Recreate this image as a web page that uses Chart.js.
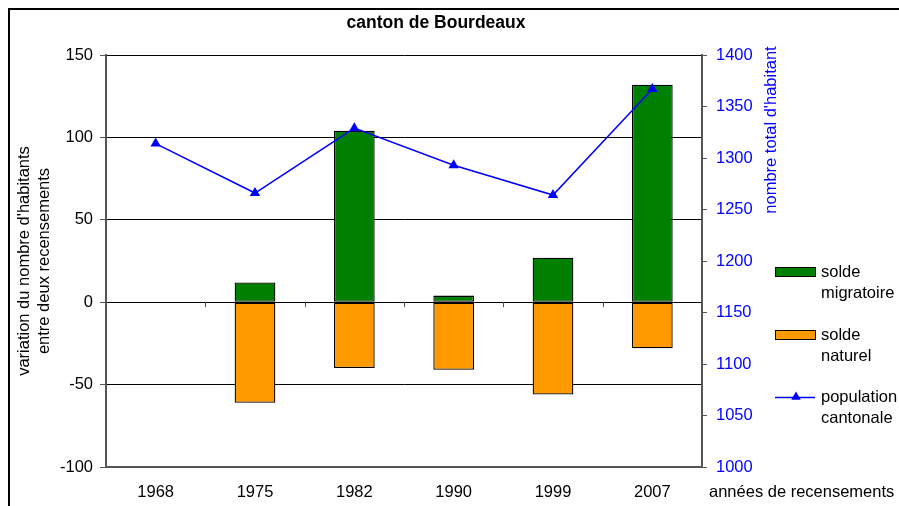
<!DOCTYPE html>
<html>
<head>
<meta charset="utf-8">
<script src="https://cdn.jsdelivr.net/npm/chart.js@4.4.1/dist/chart.umd.min.js"></script>
<style>
  body { margin: 0; background: #fff; }
  #wrap { width: 899px; height: 506px; }
</style>
</head>
<body>
<div id="wrap"><canvas id="myChart" width="899" height="506"></canvas></div>
<script>
let years = ["1968", "1975", "1982", "1990", "1999", "2007"];
let soldeMigratoire = [null, 12, 104, 4, 27, 132];
let soldeNaturel = [null, -61, -40, -41, -56, -28];
let population = [1314, 1266, 1329, 1293, 1264, 1367];
let leftTicks = [-100, 150, 50];   // min, max, step
let rightTicks = [1000, 1400, 50];

const FONT = '"Liberation Sans", Arial, sans-serif';
const SIZE = 16.5;

// title, axis titles, legend, frame and the small ticks on the zero line
const decorations = {
    id: 'decorations',
    afterDatasetsDraw(chart) {
        const ctx = chart.ctx;
        const x = chart.scales.x;
        const y0 = chart.scales.y.getPixelForValue(0);
        ctx.save();
        ctx.strokeStyle = '#555';
        ctx.lineWidth = 1;
        for (let i = 1; i < years.length; i++) {
            const px = Math.round((x.getPixelForValue(i - 1) + x.getPixelForValue(i)) / 2) + 0.5;
            ctx.beginPath();
            ctx.moveTo(px, y0);
            ctx.lineTo(px, y0 + 5);
            ctx.stroke();
        }
        ctx.restore();
    },
    afterDraw(chart) {
        const ctx = chart.ctx;
        ctx.save();

        // frame
        ctx.strokeStyle = '#000';
        ctx.lineWidth = 2;
        ctx.strokeRect(9, 9, 1000, 1000);

        // title
        ctx.fillStyle = '#000';
        ctx.font = 'bold 17.5px ' + FONT;
        ctx.textAlign = 'center';
        ctx.textBaseline = 'alphabetic';
        ctx.fillText('canton de Bourdeaux', 436, 28);

        // x axis title, to the right of the labels
        ctx.font = SIZE + 'px ' + FONT;
        ctx.textAlign = 'left';
        ctx.fillText('années de recensements', 709, 497);

        // left axis title (two lines)
        const area = chart.chartArea;
        ctx.save();
        ctx.translate(0, (area.top + area.bottom) / 2);
        ctx.rotate(-Math.PI / 2);
        ctx.textAlign = 'center';
        ctx.textBaseline = 'middle';
        ctx.fillText("variation du nombre d'habitants", 0, 24);
        ctx.fillText('entre deux recensements', 0, 44);
        ctx.restore();

        // right axis title
        ctx.save();
        ctx.translate(771, 130);
        ctx.rotate(-Math.PI / 2);
        ctx.fillStyle = '#0000FF';
        ctx.textAlign = 'center';
        ctx.textBaseline = 'middle';
        ctx.fillText("nombre total d'habitant", 0, 0);
        ctx.restore();

        // legend
        const sw = 775, tx = 821;
        const rows = [272, 335, 397];
        chart.data.datasets.forEach((ds, i) => {
            const cy = rows[i];
            if (ds.type === 'line') {
                ctx.strokeStyle = ds.borderColor;
                ctx.lineWidth = 1.5;
                ctx.beginPath();
                ctx.moveTo(sw, cy + 0.5);
                ctx.lineTo(sw + 40, cy + 0.5);
                ctx.stroke();
                ctx.fillStyle = ds.borderColor;
                Chart.helpers.drawPoint(ctx, { pointStyle: 'triangle', radius: 5.5, borderWidth: 0 }, sw + 21, cy);
            } else {
                ctx.fillStyle = ds.backgroundColor;
                ctx.fillRect(sw, cy - 4.5, 40, 9);
                ctx.strokeStyle = '#000';
                ctx.lineWidth = 1;
                ctx.strokeRect(sw + 0.5, cy - 4.5, 40, 9);
            }
            ctx.fillStyle = '#000';
            ctx.font = SIZE + 'px ' + FONT;
            ctx.textAlign = 'left';
            ctx.textBaseline = 'middle';
            ds.label.forEach((line, j) => ctx.fillText(line, tx, cy + j * 21));
        });

        ctx.restore();
    }
};

new Chart(document.getElementById('myChart'), {
    type: 'bar',
    data: {
        labels: years,
        datasets: [
            {
                label: ['solde', 'migratoire'],
                data: soldeMigratoire,
                backgroundColor: '#008000',
                borderColor: '#000',
                borderWidth: 1.3,
                borderSkipped: false,
                stack: 'solde',
                yAxisID: 'y',
                order: 1
            },
            {
                label: ['solde', 'naturel'],
                data: soldeNaturel,
                backgroundColor: '#FF9900',
                borderColor: '#000',
                borderWidth: 1.3,
                borderSkipped: false,
                stack: 'solde',
                yAxisID: 'y',
                order: 1
            },
            {
                type: 'line',
                label: ['population', 'cantonale'],
                data: population,
                borderColor: '#0000FF',
                backgroundColor: '#0000FF',
                borderWidth: 1.5,
                pointStyle: 'triangle',
                pointRadius: 6,
                pointBorderWidth: 0,
                tension: 0,
                yAxisID: 'y1',
                order: 0
            }
        ]
    },
    options: {
        responsive: false,
        animation: false,
        devicePixelRatio: 1,
        layout: { padding: { top: 55, left: 0, right: 0, bottom: 0 } },
        plugins: {
            legend: { display: false },
            title: { display: false },
            tooltip: { enabled: false }
        },
        datasets: {
            bar: { barPercentage: 0.41, categoryPercentage: 1 }
        },
        scales: {
            x: {
                stacked: true,
                grid: { display: false },
                border: { display: true, color: '#555', width: 2 },
                ticks: { color: '#000', font: { family: FONT, size: SIZE }, padding: 8, maxRotation: 0 },
                afterFit: s => { s.height = 39; }
            },
            y: {
                stacked: true,
                position: 'left',
                min: leftTicks[0],
                max: leftTicks[1],
                ticks: { stepSize: leftTicks[2], color: '#000', font: { family: FONT, size: SIZE }, padding: 7 },
                grid: { color: '#000', lineWidth: 1, tickLength: 6, tickColor: '#555' },
                border: { color: '#555', width: 2 },
                afterFit: s => { s.width = 106; }
            },
            y1: {
                position: 'right',
                min: rightTicks[0],
                max: rightTicks[1],
                ticks: {
                    stepSize: rightTicks[2],
                    color: '#0000FF',
                    font: { family: FONT, size: SIZE },
                    padding: 9,
                    callback: v => String(v)
                },
                grid: { drawOnChartArea: false, tickLength: 5, tickColor: '#555' },
                border: { color: '#555', width: 2 },
                afterFit: s => { s.width = 197; }
            }
        }
    },
    plugins: [decorations]
});
</script>
</body>
</html>
